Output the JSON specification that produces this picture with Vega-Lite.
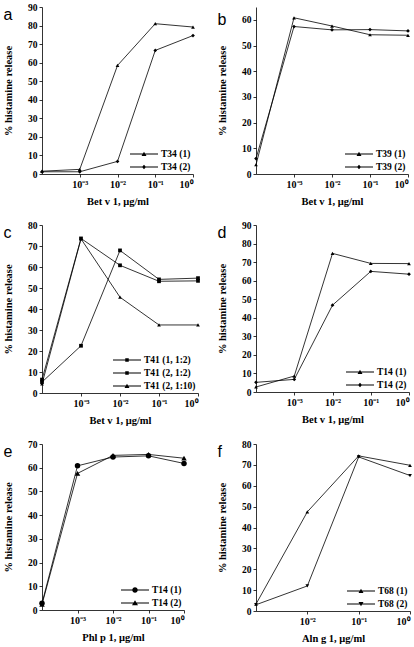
{
  "$schema": "https://vega.github.io/schema/vega-lite/v6.json",
  "background": "white",
  "padding": {"left": 3, "top": 2, "right": 0, "bottom": 0},
  "config": {
    "view": {"stroke": null},
    "font": "Liberation Serif",
    "axis": {
      "grid": false, "domainColor": "black", "tickColor": "black", "labelColor": "black", "titleColor": "black",
      "labelFont": "Liberation Serif", "labelFontWeight": "bold", "labelFontSize": 9.5,
      "titleFont": "Liberation Serif", "titleFontWeight": "bold", "titleFontSize": 10.5,
      "tickSize": 3, "domainWidth": 0.8, "tickWidth": 0.8, "labelPadding": 2
    },
    "axisY": {"titlePadding": 14},
    "axisX": {"titlePadding": 7, "labelFontSize": 10},
    "title": {"font": "Liberation Sans", "fontSize": 16, "fontWeight": "normal", "anchor": "start", "frame": "bounds", "offset": -21, "color": "black"},
    "legend": {
      "symbolSize": 100, "symbolStrokeWidth": 0, "symbolFillColor": "black", "symbolStrokeColor": "black",
      "labelFont": "Liberation Serif", "labelFontSize": 9.5, "labelFontWeight": "bold", "labelColor": "black",
      "rowPadding": 3, "offset": 2, "padding": 0, "labelOffset": 12
    }
  },
  "datasets": {
    "a": [
      {"s": "T34 (1)", "x": -4, "y": 1.5}, {"s": "T34 (1)", "x": -3, "y": 2.5}, {"s": "T34 (1)", "x": -2, "y": 58.5}, {"s": "T34 (1)", "x": -1, "y": 81}, {"s": "T34 (1)", "x": 0, "y": 79.2},
      {"s": "T34 (2)", "x": -4, "y": 1.2}, {"s": "T34 (2)", "x": -3, "y": 1.2}, {"s": "T34 (2)", "x": -2, "y": 6.8}, {"s": "T34 (2)", "x": -1, "y": 66.6}, {"s": "T34 (2)", "x": 0, "y": 74.6}
    ],
    "b": [
      {"s": "T39 (1)", "x": -4, "y": 3.6}, {"s": "T39 (1)", "x": -3, "y": 60.8}, {"s": "T39 (1)", "x": -2, "y": 57.6}, {"s": "T39 (1)", "x": -1, "y": 54.2}, {"s": "T39 (1)", "x": 0, "y": 54.0},
      {"s": "T39 (2)", "x": -4, "y": 6.0}, {"s": "T39 (2)", "x": -3, "y": 57.4}, {"s": "T39 (2)", "x": -2, "y": 56.1}, {"s": "T39 (2)", "x": -1, "y": 56.2}, {"s": "T39 (2)", "x": 0, "y": 55.7}
    ],
    "c": [
      {"s": "T41 (1, 1:2)", "x": -4, "y": 6.4}, {"s": "T41 (1, 1:2)", "x": -3, "y": 73.6}, {"s": "T41 (1, 1:2)", "x": -2, "y": 60.8}, {"s": "T41 (1, 1:2)", "x": -1, "y": 53.2}, {"s": "T41 (1, 1:2)", "x": 0, "y": 53.4},
      {"s": "T41 (2, 1:2)", "x": -4, "y": 5.2}, {"s": "T41 (2, 1:2)", "x": -3, "y": 22.5}, {"s": "T41 (2, 1:2)", "x": -2, "y": 67.9}, {"s": "T41 (2, 1:2)", "x": -1, "y": 54.1}, {"s": "T41 (2, 1:2)", "x": 0, "y": 54.7},
      {"s": "T41 (2, 1:10)", "x": -4, "y": 4.3}, {"s": "T41 (2, 1:10)", "x": -3, "y": 73.4}, {"s": "T41 (2, 1:10)", "x": -2, "y": 45.6}, {"s": "T41 (2, 1:10)", "x": -1, "y": 32.4}, {"s": "T41 (2, 1:10)", "x": 0, "y": 32.4}
    ],
    "d": [
      {"s": "T14 (1)", "x": -4, "y": 2.7}, {"s": "T14 (1)", "x": -3, "y": 8.6}, {"s": "T14 (1)", "x": -2, "y": 74.7}, {"s": "T14 (1)", "x": -1, "y": 69.3}, {"s": "T14 (1)", "x": 0, "y": 69.2},
      {"s": "T14 (2)", "x": -4, "y": 5.2}, {"s": "T14 (2)", "x": -3, "y": 6.8}, {"s": "T14 (2)", "x": -2, "y": 46.8}, {"s": "T14 (2)", "x": -1, "y": 65.0}, {"s": "T14 (2)", "x": 0, "y": 63.5}
    ],
    "e": [
      {"s": "T14 (1)", "x": -4, "y": 2.8}, {"s": "T14 (1)", "x": -3, "y": 60.8}, {"s": "T14 (1)", "x": -2, "y": 64.5}, {"s": "T14 (1)", "x": -1, "y": 65.0}, {"s": "T14 (1)", "x": 0, "y": 61.8},
      {"s": "T14 (2)", "x": -4, "y": 2.4}, {"s": "T14 (2)", "x": -3, "y": 57.6}, {"s": "T14 (2)", "x": -2, "y": 65.2}, {"s": "T14 (2)", "x": -1, "y": 65.6}, {"s": "T14 (2)", "x": 0, "y": 64.0}
    ],
    "f": [
      {"s": "T68 (1)", "x": -3, "y": 3.3}, {"s": "T68 (1)", "x": -2, "y": 47.5}, {"s": "T68 (1)", "x": -1, "y": 74.3}, {"s": "T68 (1)", "x": 0, "y": 69.8},
      {"s": "T68 (2)", "x": -3, "y": 3.0}, {"s": "T68 (2)", "x": -2, "y": 12.0}, {"s": "T68 (2)", "x": -1, "y": 73.8}, {"s": "T68 (2)", "x": 0, "y": 64.9}
    ]
  },
  "columns": 2,
  "spacing": {"row": 13, "column": 11},
  "concat": [
    {
      "title": {"text": "a"},
      "width": 151, "height": 167,
      "data": {"name": "a"},
      "encoding": {
        "x": {"field": "x", "type": "quantitative", "scale": {"domain": [-4, 0], "nice": false, "zero": false},
              "axis": {"values": [-3, -2, -1, 0], "labelExpr": "datum.value == -3 ? '10⁻³' : datum.value == -2 ? '10⁻²' : datum.value == -1 ? '10⁻¹' : '10⁰'", "title": "Bet v 1, μg/ml"}},
        "y": {"field": "y", "type": "quantitative", "scale": {"domain": [0, 90], "nice": false},
              "axis": {"values": [0, 10, 20, 30, 40, 50, 60, 70, 80, 90], "title": "% histamine release"}}
      },
      "layer": [
        {"mark": {"type": "line", "color": "black", "strokeWidth": 0.8}, "encoding": {"detail": {"field": "s"}}},
        {"mark": {"type": "point", "filled": true, "color": "black", "opacity": 1, "size": 14},
         "encoding": {"shape": {"field": "s", "type": "nominal", "scale": {"domain": ["T34 (1)", "T34 (2)"], "range": ["triangle-up", "diamond"]}, "legend": null}}},
        {"mark": {"type": "point", "filled": true, "color": "black", "opacity": 0},
         "encoding": {"shape": {"field": "s", "type": "nominal", "scale": {"domain": ["T34 (1)", "T34 (2)"], "range": ["M-2.8,-0.08L2.8,-0.08L2.8,0.08L-2.8,0.08ZM0,-0.45L0.5,0.4L-0.5,0.4Z", "M-2.8,-0.08L2.8,-0.08L2.8,0.08L-2.8,0.08ZM-0.4,0L0,-0.45L0.4,0L0,0.45Z"]},
           "legend": {"title": null, "orient": "bottom-right", "symbolOpacity": 1, "encode": {"symbols": {"update": {"fill": {"value": "black"}, "opacity": {"value": 1}}}}}}}}
      ],
      "resolve": {"scale": {"shape": "independent"}, "legend": {"shape": "independent"}}
    },
    {
      "title": {"text": "b"},
      "width": 152, "height": 167,
      "data": {"name": "b"},
      "encoding": {
        "x": {"field": "x", "type": "quantitative", "scale": {"domain": [-4, 0], "nice": false, "zero": false},
              "axis": {"values": [-3, -2, -1, 0], "labelExpr": "datum.value == -3 ? '10⁻³' : datum.value == -2 ? '10⁻²' : datum.value == -1 ? '10⁻¹' : '10⁰'", "title": "Bet v 1, μg/ml"}},
        "y": {"field": "y", "type": "quantitative", "scale": {"domain": [0, 65], "nice": false},
              "axis": {"values": [0, 10, 20, 30, 40, 50, 60], "title": "% histamine release"}}
      },
      "layer": [
        {"mark": {"type": "line", "color": "black", "strokeWidth": 0.8}, "encoding": {"detail": {"field": "s"}}},
        {"mark": {"type": "point", "filled": true, "color": "black", "opacity": 1, "size": 14},
         "encoding": {"shape": {"field": "s", "type": "nominal", "scale": {"domain": ["T39 (1)", "T39 (2)"], "range": ["triangle-up", "diamond"]}, "legend": null}}},
        {"mark": {"type": "point", "filled": true, "color": "black", "opacity": 0},
         "encoding": {"shape": {"field": "s", "type": "nominal", "scale": {"domain": ["T39 (1)", "T39 (2)"], "range": ["M-2.8,-0.08L2.8,-0.08L2.8,0.08L-2.8,0.08ZM0,-0.45L0.5,0.4L-0.5,0.4Z", "M-2.8,-0.08L2.8,-0.08L2.8,0.08L-2.8,0.08ZM-0.4,0L0,-0.45L0.4,0L0,0.45Z"]},
           "legend": {"title": null, "orient": "bottom-right", "symbolOpacity": 1, "encode": {"symbols": {"update": {"fill": {"value": "black"}, "opacity": {"value": 1}}}}}}}}
      ],
      "resolve": {"scale": {"shape": "independent"}, "legend": {"shape": "independent"}}
    },
    {
      "title": {"text": "c"},
      "width": 156, "height": 168,
      "data": {"name": "c"},
      "encoding": {
        "x": {"field": "x", "type": "quantitative", "scale": {"domain": [-4, 0], "nice": false, "zero": false},
              "axis": {"values": [-3, -2, -1, 0], "labelExpr": "datum.value == -3 ? '10⁻³' : datum.value == -2 ? '10⁻²' : datum.value == -1 ? '10⁻¹' : '10⁰'", "title": "Bet v 1,  μg/ml"}},
        "y": {"field": "y", "type": "quantitative", "scale": {"domain": [0, 80], "nice": false},
              "axis": {"values": [0, 10, 20, 30, 40, 50, 60, 70, 80], "title": "% histamine release"}}
      },
      "layer": [
        {"mark": {"type": "line", "color": "black", "strokeWidth": 0.8}, "encoding": {"detail": {"field": "s"}}},
        {"mark": {"type": "point", "filled": true, "color": "black", "opacity": 1, "size": 14},
         "encoding": {"shape": {"field": "s", "type": "nominal", "scale": {"domain": ["T41 (1, 1:2)", "T41 (2, 1:2)", "T41 (2, 1:10)"], "range": ["square", "square", "triangle-up"]}, "legend": null}}},
        {"mark": {"type": "point", "filled": true, "color": "black", "opacity": 0},
         "encoding": {"shape": {"field": "s", "type": "nominal", "scale": {"domain": ["T41 (1, 1:2)", "T41 (2, 1:2)", "T41 (2, 1:10)"], "range": ["M-2.8,-0.08L2.8,-0.08L2.8,0.08L-2.8,0.08ZM-0.35,-0.35L0.35,-0.35L0.35,0.35L-0.35,0.35Z", "M-2.8,-0.08L2.8,-0.08L2.8,0.08L-2.8,0.08ZM-0.35,-0.35L0.35,-0.35L0.35,0.35L-0.35,0.35Z", "M-2.8,-0.08L2.8,-0.08L2.8,0.08L-2.8,0.08ZM0,-0.45L0.5,0.4L-0.5,0.4Z"]},
           "legend": {"title": null, "orient": "bottom-right", "symbolOpacity": 1, "encode": {"symbols": {"update": {"fill": {"value": "black"}, "opacity": {"value": 1}}}}}}}}
      ],
      "resolve": {"scale": {"shape": "independent"}, "legend": {"shape": "independent"}}
    },
    {
      "title": {"text": "d"},
      "width": 153, "height": 167,
      "data": {"name": "d"},
      "encoding": {
        "x": {"field": "x", "type": "quantitative", "scale": {"domain": [-4, 0], "nice": false, "zero": false},
              "axis": {"values": [-3, -2, -1, 0], "labelExpr": "datum.value == -3 ? '10⁻³' : datum.value == -2 ? '10⁻²' : datum.value == -1 ? '10⁻¹' : '10⁰'", "title": "Bet v 1, μg/ml"}},
        "y": {"field": "y", "type": "quantitative", "scale": {"domain": [0, 90], "nice": false},
              "axis": {"values": [0, 10, 20, 30, 40, 50, 60, 70, 80, 90], "title": "% histamine release"}}
      },
      "layer": [
        {"mark": {"type": "line", "color": "black", "strokeWidth": 0.8}, "encoding": {"detail": {"field": "s"}}},
        {"mark": {"type": "point", "filled": true, "color": "black", "opacity": 1, "size": 14},
         "encoding": {"shape": {"field": "s", "type": "nominal", "scale": {"domain": ["T14 (1)", "T14 (2)"], "range": ["triangle-up", "diamond"]}, "legend": null}}},
        {"mark": {"type": "point", "filled": true, "color": "black", "opacity": 0},
         "encoding": {"shape": {"field": "s", "type": "nominal", "scale": {"domain": ["T14 (1)", "T14 (2)"], "range": ["M-2.8,-0.08L2.8,-0.08L2.8,0.08L-2.8,0.08ZM0,-0.45L0.5,0.4L-0.5,0.4Z", "M-2.8,-0.08L2.8,-0.08L2.8,0.08L-2.8,0.08ZM-0.4,0L0,-0.45L0.4,0L0,0.45Z"]},
           "legend": {"title": null, "orient": "bottom-right", "symbolOpacity": 1, "encode": {"symbols": {"update": {"fill": {"value": "black"}, "opacity": {"value": 1}}}}}}}}
      ],
      "resolve": {"scale": {"shape": "independent"}, "legend": {"shape": "independent"}}
    },
    {
      "title": {"text": "e"},
      "width": 142, "height": 166,
      "data": {"name": "e"},
      "encoding": {
        "x": {"field": "x", "type": "quantitative", "scale": {"domain": [-4, 0], "nice": false, "zero": false},
              "axis": {"values": [-3, -2, -1, 0], "labelExpr": "datum.value == -3 ? '10⁻³' : datum.value == -2 ? '10⁻²' : datum.value == -1 ? '10⁻¹' : '10⁰'", "title": "Phl p 1, μg/ml"}},
        "y": {"field": "y", "type": "quantitative", "scale": {"domain": [0, 70], "nice": false},
              "axis": {"values": [0, 10, 20, 30, 40, 50, 60, 70], "title": "% histamine release"}}
      },
      "layer": [
        {"mark": {"type": "line", "color": "black", "strokeWidth": 0.8}, "encoding": {"detail": {"field": "s"}}},
        {"mark": {"type": "point", "filled": true, "color": "black", "opacity": 1, "size": 30},
         "encoding": {"shape": {"field": "s", "type": "nominal", "scale": {"domain": ["T14 (1)", "T14 (2)"], "range": ["circle", "triangle-up"]}, "legend": null}}},
        {"mark": {"type": "point", "filled": true, "color": "black", "opacity": 0},
         "encoding": {"shape": {"field": "s", "type": "nominal", "scale": {"domain": ["T14 (1)", "T14 (2)"], "range": ["M-2.8,-0.08L2.8,-0.08L2.8,0.08L-2.8,0.08ZM-0.55,0A0.55,0.55 0 1,1 0.55,0A0.55,0.55 0 1,1 -0.55,0Z", "M-2.8,-0.08L2.8,-0.08L2.8,0.08L-2.8,0.08ZM0,-0.55L0.6,0.45L-0.6,0.45Z"]},
           "legend": {"title": null, "orient": "bottom-right", "symbolOpacity": 1, "encode": {"symbols": {"update": {"fill": {"value": "black"}, "opacity": {"value": 1}}}}}}}}
      ],
      "resolve": {"scale": {"shape": "independent"}, "legend": {"shape": "independent"}}
    },
    {
      "title": {"text": "f"},
      "width": 154, "height": 167,
      "data": {"name": "f"},
      "encoding": {
        "x": {"field": "x", "type": "quantitative", "scale": {"domain": [-3, 0], "nice": false, "zero": false},
              "axis": {"values": [-2, -1, 0], "labelExpr": "datum.value == -2 ? '10⁻²' : datum.value == -1 ? '10⁻¹' : '10⁰'", "title": "Aln g 1, μg/ml"}},
        "y": {"field": "y", "type": "quantitative", "scale": {"domain": [0, 80], "nice": false},
              "axis": {"values": [0, 10, 20, 30, 40, 50, 60, 70, 80], "title": "% histamine release"}}
      },
      "layer": [
        {"mark": {"type": "line", "color": "black", "strokeWidth": 0.8}, "encoding": {"detail": {"field": "s"}}},
        {"mark": {"type": "point", "filled": true, "color": "black", "opacity": 1, "size": 14},
         "encoding": {"shape": {"field": "s", "type": "nominal", "scale": {"domain": ["T68 (1)", "T68 (2)"], "range": ["triangle-up", "triangle-down"]}, "legend": null}}},
        {"mark": {"type": "point", "filled": true, "color": "black", "opacity": 0},
         "encoding": {"shape": {"field": "s", "type": "nominal", "scale": {"domain": ["T68 (1)", "T68 (2)"], "range": ["M-2.8,-0.08L2.8,-0.08L2.8,0.08L-2.8,0.08ZM0,-0.45L0.5,0.4L-0.5,0.4Z", "M-2.8,-0.08L2.8,-0.08L2.8,0.08L-2.8,0.08ZM-0.5,-0.4L0.5,-0.4L0,0.45Z"]},
           "legend": {"title": null, "orient": "bottom-right", "symbolOpacity": 1, "encode": {"symbols": {"update": {"fill": {"value": "black"}, "opacity": {"value": 1}}}}}}}}
      ],
      "resolve": {"scale": {"shape": "independent"}, "legend": {"shape": "independent"}}
    }
  ]
}
